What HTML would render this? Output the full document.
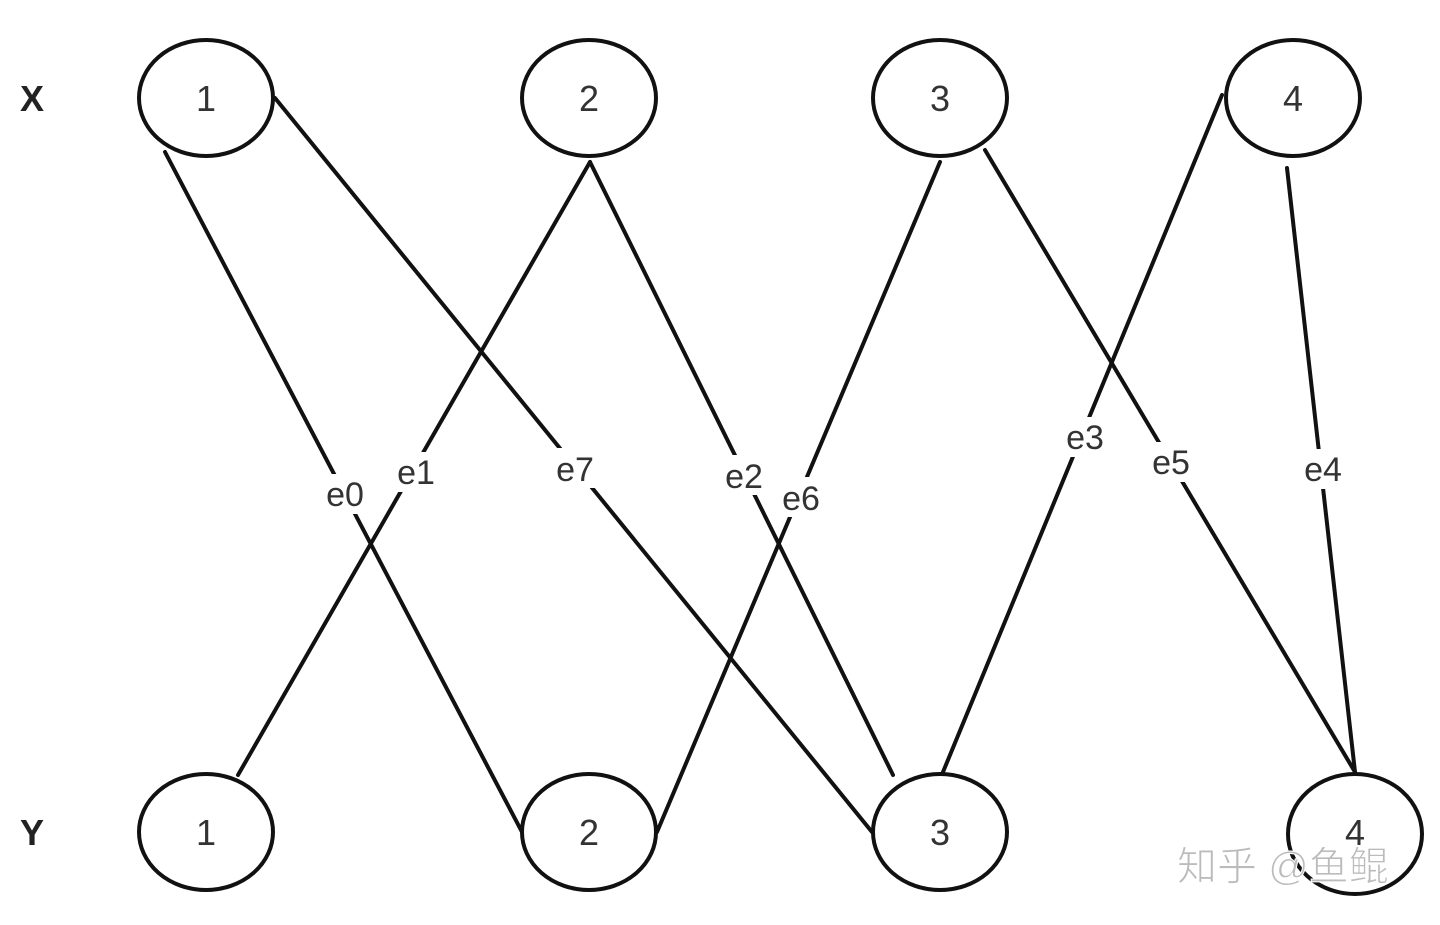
<!DOCTYPE html>
<html><head><meta charset="utf-8"><style>
html,body{margin:0;padding:0;background:#fff;}
svg{display:block;}
text{font-family:"Liberation Sans","Noto Sans CJK SC",sans-serif;}
</style></head><body>
<svg width="1440" height="925" viewBox="0 0 1440 925" xmlns="http://www.w3.org/2000/svg">
<g stroke="#111" stroke-width="4" fill="none" stroke-linecap="round">
<line x1="165" y1="152" x2="522" y2="832"/>
<line x1="590" y1="162" x2="238" y2="775"/>
<line x1="275" y1="98" x2="872" y2="832"/>
<line x1="590" y1="162" x2="893" y2="775"/>
<line x1="940" y1="162" x2="657" y2="832"/>
<line x1="1222" y1="95" x2="943" y2="772"/>
<line x1="985" y1="150" x2="1355" y2="772"/>
<line x1="1287" y1="168" x2="1355" y2="772"/>
</g>
<g fill="#fff">
<rect x="320" y="474" width="52" height="40"/>
<rect x="393" y="452" width="46" height="40"/>
<rect x="552" y="448" width="48" height="40"/>
<rect x="720" y="455" width="48" height="40"/>
<rect x="777" y="477" width="48" height="40"/>
<rect x="1060" y="417" width="50" height="40"/>
<rect x="1146" y="442" width="50" height="40"/>
<rect x="1298" y="449" width="50" height="40"/>
</g>
<g font-size="34" fill="#333" text-anchor="middle">
<text x="345" y="506">e0</text>
<text x="416" y="484">e1</text>
<text x="575" y="481">e7</text>
<text x="744" y="488">e2</text>
<text x="801" y="510">e6</text>
<text x="1085" y="449">e3</text>
<text x="1171" y="474">e5</text>
<text x="1323" y="481">e4</text>
</g>
<g stroke="#111" stroke-width="4" fill="#fff">
<ellipse cx="206" cy="98" rx="67" ry="58"/>
<ellipse cx="589" cy="98" rx="67" ry="58"/>
<ellipse cx="940" cy="98" rx="67" ry="58"/>
<ellipse cx="1293" cy="98" rx="67" ry="58"/>
<ellipse cx="206" cy="832" rx="67" ry="58"/>
<ellipse cx="589" cy="832" rx="67" ry="58"/>
<ellipse cx="940" cy="832" rx="67" ry="58"/>
</g>
<ellipse cx="1355" cy="834" rx="67" ry="60" stroke="#111" stroke-width="4" fill="none"/>
<g font-size="36" fill="#333" text-anchor="middle">
<text x="206" y="111">1</text>
<text x="589" y="111">2</text>
<text x="940" y="111">3</text>
<text x="1293" y="111">4</text>
<text x="206" y="845">1</text>
<text x="589" y="845">2</text>
<text x="940" y="845">3</text>
<text x="1355" y="845">4</text>
</g>
<g font-size="36" fill="#222" font-weight="bold">
<text x="20" y="111">X</text>
<text x="20" y="845">Y</text>
</g>
<text x="1177" y="880" font-size="40" fill="#bbb" stroke="#fff" stroke-width="1" font-family="Noto Sans CJK SC,sans-serif">知乎 @鱼鲲</text>
</svg>
</body></html>
